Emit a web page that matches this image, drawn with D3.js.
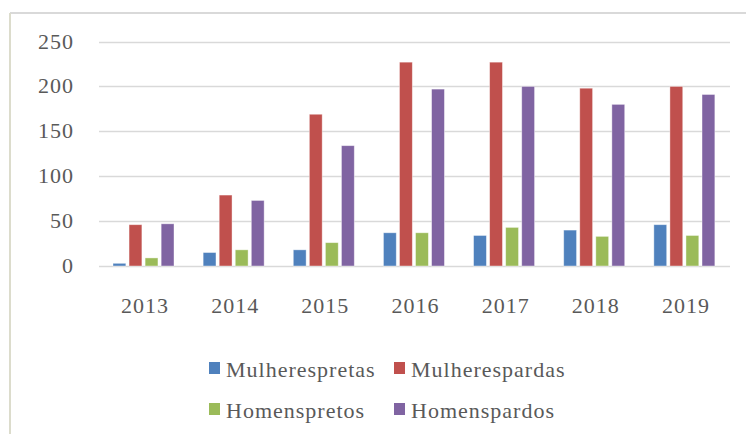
<!DOCTYPE html>
<html>
<head>
<meta charset="utf-8">
<script src="https://cdn.jsdelivr.net/npm/d3@7"></script>
<style>
  body { margin: 0; background: #fff; }
  text { font-family: "Liberation Serif", "Times New Roman", serif; fill: #595959; }
</style>
</head>
<body>
<div id="VizBox"></div>
<script>
// anos
var years = ["2013", "2014", "2015", "2016", "2017", "2018", "2019"];
var series = ["Mulherespretas", "Mulherespardas", "Homenspretos", "Homenspardos"];
var colors = ["#4f81bd", "#c0504d", "#9bbb59", "#8064a2"];

var mulheresPretas = [3, 15, 18, 37, 34, 40, 46];
var mulheresPardas = [46, 79, 169, 227, 227, 198, 200];
var homensPretos   = [9, 18, 26, 37, 43, 33, 34];
var homensPardos   = [47, 73, 134, 197, 200, 180, 191];

var yTicks = [0, 50, 100, 150, 200, 250];

var values = [mulheresPretas, mulheresPardas, homensPretos, homensPardos];

var W = 746, H = 434;
var svg = d3.select("#VizBox")
  .append("svg")
    .attr("width", W)
    .attr("height", H);

// moldura
svg.append("line").attr("x1", 10).attr("x2", W).attr("y1", 13).attr("y2", 13)
  .attr("stroke", "#d9d9d9").attr("stroke-width", 2);
svg.append("line").attr("x1", 10).attr("x2", 10).attr("y1", 13).attr("y2", H)
  .attr("stroke", "#dcdccc").attr("stroke-width", 2);

var x0 = d3.scaleBand().domain(years).range([99, 730]);
var x1 = d3.scaleBand().domain(series).range([14, 75]).paddingInner(0.2);
var y = d3.scaleLinear().domain([0, 250]).range([266, 41.5]);

// grid
svg.append("g").selectAll("line")
  .data(yTicks)
  .enter().append("line")
    .attr("x1", 99).attr("x2", 730)
    .attr("y1", function(d) { return Math.round(y(d)) + 0.5; })
    .attr("y2", function(d) { return Math.round(y(d)) + 0.5; })
    .attr("stroke", "#d9d9d9")
    .attr("stroke-width", 1.5);

// eixo y
svg.append("g").selectAll("text")
  .data(yTicks)
  .enter().append("text")
    .attr("x", 74)
    .attr("y", function(d) { return y(d) + 7; })
    .attr("text-anchor", "end")
    .attr("font-size", "22px")
    .attr("letter-spacing", "1px")
    .text(function(d) { return d; });

// eixo x
svg.append("g").selectAll("text")
  .data(years)
  .enter().append("text")
    .attr("x", function(d) { return x0(d) + x0.bandwidth() / 2 + 1; })
    .attr("y", 313)
    .attr("text-anchor", "middle")
    .attr("font-size", "22px")
    .attr("letter-spacing", "1px")
    .text(function(d) { return d; });

// barras
var groups = svg.append("g").selectAll("g")
  .data(years)
  .enter().append("g")
    .attr("transform", function(d) { return "translate(" + x0(d) + ",0)"; });

groups.selectAll("rect")
  .data(function(d, i) { return series.map(function(s, j) { return {s: s, j: j, v: values[j][i]}; }); })
  .enter().append("rect")
    .attr("x", function(d) { return x1(d.s); })
    .attr("y", function(d) { return y(d.v); })
    .attr("width", x1.bandwidth())
    .attr("height", function(d) { return y(0) - y(d.v); })
    .attr("fill", function(d) { return colors[d.j]; })
    .attr("stroke", "#ffffff")
    .attr("stroke-opacity", 0.5)
    .attr("stroke-width", 0.8);

// legenda
var legendPos = [[209, 362], [394, 362], [209, 403], [394, 403]];
var legend = svg.append("g").selectAll("g")
  .data(series)
  .enter().append("g")
    .attr("transform", function(d, i) { return "translate(" + legendPos[i][0] + "," + legendPos[i][1] + ")"; });

legend.append("rect")
  .attr("width", 11).attr("height", 12)
  .attr("fill", function(d, i) { return colors[i]; });

legend.append("text")
  .attr("x", 17)
  .attr("y", 15)
  .attr("font-size", "22px")
  .attr("letter-spacing", "1px")
  .text(function(d) { return d; });
</script>
</body>
</html>
